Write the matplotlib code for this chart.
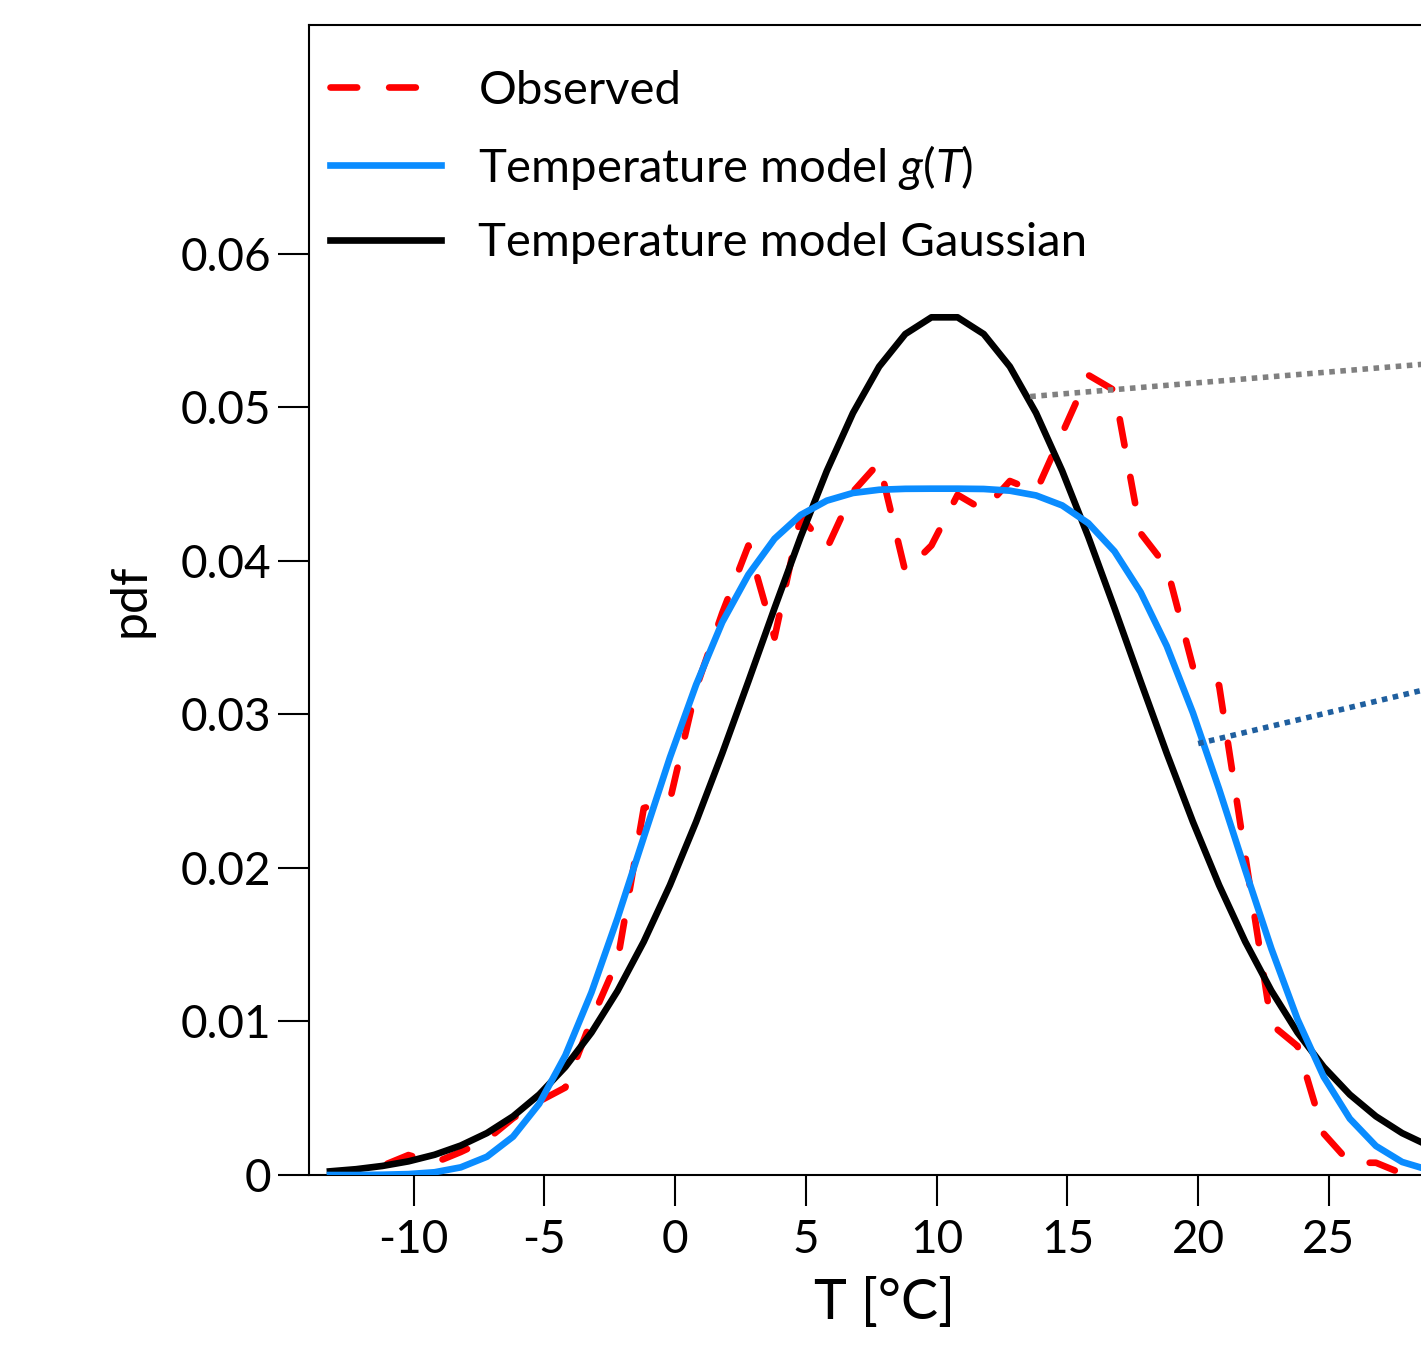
import matplotlib.pyplot as plt
from matplotlib.ticker import FixedLocator, FixedFormatter

plt.rcParams['font.family'] = ['Lato', 'DejaVu Sans']
plt.rcParams['mathtext.fontset'] = 'custom'
plt.rcParams['mathtext.it'] = 'Lato:italic'
plt.rcParams['mathtext.rm'] = 'Lato'

# sample temperatures [deg C]
temps = [-13.2, -12.2, -11.2, -10.2, -9.2, -8.2, -7.2, -6.2, -5.2, -4.2,
         -3.2, -2.2, -1.2, -0.2, 0.8, 1.8, 2.8, 3.8, 4.8, 5.8,
         6.8, 7.8, 8.8, 9.8, 10.8, 11.8, 12.8, 13.8, 14.8, 15.8,
         16.8, 17.8, 18.8, 19.8, 20.8, 21.8, 22.8, 23.8, 24.8, 25.8,
         26.8, 27.8, 28.8, 29.8, 30.8]

observed = [0.0000, 0.0002, 0.0006, 0.0013, 0.0008, 0.0015, 0.0023, 0.0037, 0.0048, 0.0057,
            0.0101, 0.0140, 0.0239, 0.0244, 0.0317, 0.0366, 0.0410, 0.0350, 0.0429, 0.0408,
            0.0445, 0.0464, 0.0393, 0.0410, 0.0443, 0.0433, 0.0452, 0.0445, 0.0483, 0.0521,
            0.0511, 0.0418, 0.0396, 0.0331, 0.0319, 0.0208, 0.0098, 0.0084, 0.0027, 0.0008,
            0.0008, 0.0001, 0.0000, 0.0000, 0.0000]

model_g = [0.00000, 0.00000, 0.00002, 0.00006, 0.00018, 0.00050, 0.00119, 0.00250, 0.00464, 0.00779,
           0.01190, 0.01675, 0.02200, 0.02720, 0.03193, 0.03600, 0.03910, 0.04144, 0.04299, 0.04392,
           0.04442, 0.04463, 0.04469, 0.04470, 0.04470, 0.04468, 0.04457, 0.04426, 0.04361, 0.04245,
           0.04062, 0.03796, 0.03445, 0.03010, 0.02514, 0.01987, 0.01474, 0.01014, 0.00640, 0.00367,
           0.00189, 0.00085, 0.00034, 0.00012, 0.00004]

model_gauss = [0.00024, 0.00038, 0.00059, 0.00089, 0.00132, 0.00192, 0.00273, 0.00382, 0.00524, 0.00704,
               0.00928, 0.01200, 0.01520, 0.01888, 0.02300, 0.02746, 0.03215, 0.03692, 0.04156, 0.04586,
               0.04963, 0.05265, 0.05477, 0.05586, 0.05586, 0.05477, 0.05265, 0.04963, 0.04586, 0.04156,
               0.03692, 0.03215, 0.02746, 0.02300, 0.01888, 0.01520, 0.01200, 0.00928, 0.00704, 0.00524,
               0.00382, 0.00273, 0.00192, 0.00132, 0.00089]

xticks = [-10, -5, 0, 5, 10, 15, 20, 25]
xtick_labels = ['-10', '-5', '0', '5', '10', '15', '20', '25']
yticks = [0, 0.01, 0.02, 0.03, 0.04, 0.05, 0.06]
ytick_labels = ['0', '0.01', '0.02', '0.03', '0.04', '0.05', '0.06']

# zoom connector lines leaving the panel to the right
grey_link_x = [13.58, 40.0]
grey_link_y = [0.0507, 0.0544]
blue_link_x = [20.0, 40.0]
blue_link_y = [0.0281, 0.0362]

fig = plt.figure(figsize=(14.21, 13.57), dpi=100)
ax = fig.add_axes((0.2175, 0.1341, 0.8097, 0.8475))

ax.plot(temps, observed, color='#ff0000', lw=4.8, dashes=(4.0, 4.8),
        dash_capstyle='round', label='Observed', zorder=2)
ax.plot(temps, model_gauss, color='black', lw=4.8, label='Temperature model Gaussian', zorder=3)
ax.plot(temps, model_g, color='#0a8cff', lw=4.8, label=r'Temperature model $\mathit{g(T)}$', zorder=4)

ax.plot(grey_link_x, grey_link_y, color='#808080', lw=4, linestyle=(0, (1, 1)),
        clip_on=False, zorder=5)
ax.plot(blue_link_x, blue_link_y, color='#1f5f9f', lw=4, linestyle=(0, (1, 1)),
        clip_on=False, zorder=5)

ax.set_xlim(-14, 30)
ax.set_ylim(0, 0.0749)

ax.xaxis.set_major_locator(FixedLocator(xticks))
ax.xaxis.set_major_formatter(FixedFormatter(xtick_labels))
ax.yaxis.set_major_locator(FixedLocator(yticks))
ax.yaxis.set_major_formatter(FixedFormatter(ytick_labels))
ax.tick_params(direction='out', length=22, width=1.5, labelsize=33)
ax.tick_params(axis='x', pad=10)
ax.tick_params(axis='y', pad=5)
for s in ax.spines.values():
    s.set_linewidth(1.5)

ax.set_xlabel('T [°C]', fontsize=40, labelpad=12)
ax.set_ylabel('pdf', fontsize=36, labelpad=20)

h, l = ax.get_legend_handles_labels()
order = [0, 2, 1]
ax.legend([h[i] for i in order], [l[i] for i in order], loc='upper left',
          bbox_to_anchor=(0.0183, 0.961), frameon=False, fontsize=34,
          handlelength=2.34, handletextpad=0.8, labelspacing=0.65,
          borderpad=0, borderaxespad=0)

fig.savefig('out.png', dpi=100)
